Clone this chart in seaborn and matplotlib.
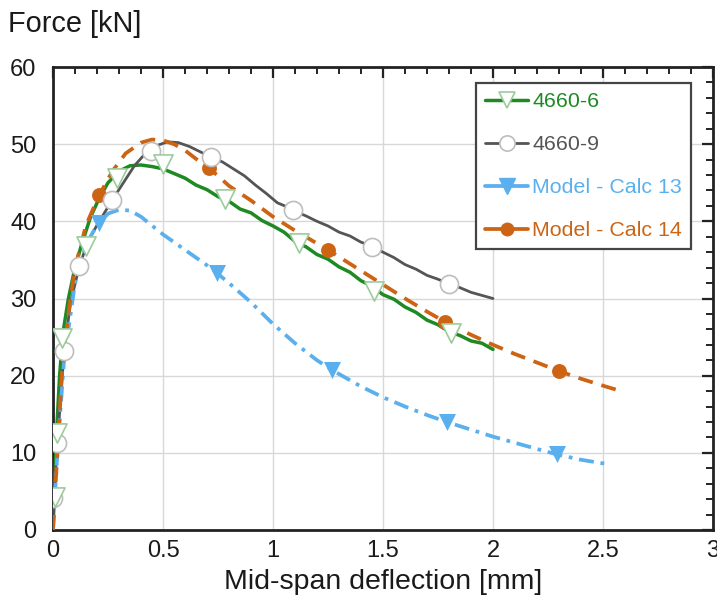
import numpy as np
import pandas as pd
import matplotlib
matplotlib.use("Agg")
import matplotlib.pyplot as plt
from matplotlib.lines import Line2D
import seaborn as sns

# ---- data ----
g6_x = [0, 0.005, 0.015, 0.03, 0.045, 0.07, 0.1, 0.13, 0.17, 0.21, 0.25, 0.3, 0.35, 0.4, 0.45,
        0.5, 0.55, 0.6, 0.65, 0.7, 0.75, 0.8, 0.85, 0.9, 0.95, 1.0, 1.05, 1.1, 1.15, 1.2, 1.25,
        1.3, 1.35, 1.4, 1.45, 1.5, 1.55, 1.6, 1.65, 1.7, 1.75, 1.8, 1.85, 1.9, 1.95, 2.0]
g6_y = [0, 4, 12, 20, 25.5, 30, 34, 37, 40.5, 43, 45, 46.5, 47.2, 47.3, 47.1,
        46.8, 46.2, 45.6, 44.7, 44.1, 43.2, 42.6, 41.6, 41.1, 40.1, 39.4, 38.6, 37.4, 36.7, 35.7, 35.1,
        34.1, 33.4, 32.3, 31.6, 30.5, 29.9, 28.9, 28.2, 27.2, 26.6, 25.7, 25.2, 24.5, 24.2, 23.4]
g6_mx = [0.01, 0.02, 0.04, 0.15, 0.29, 0.5, 0.78, 1.12, 1.46, 1.81]
g6_my = [4.3, 12.6, 24.9, 36.8, 45.6, 47.4, 42.9, 37.2, 31.0, 25.5]

g9_x = [0, 0.005, 0.02, 0.05, 0.08, 0.12, 0.16, 0.2, 0.27, 0.32, 0.37, 0.42, 0.47, 0.52, 0.57,
        0.62, 0.67, 0.72, 0.77, 0.82, 0.87, 0.92, 0.97, 1.02, 1.07, 1.1, 1.15, 1.2, 1.25, 1.3,
        1.35, 1.4, 1.45, 1.5, 1.55, 1.6, 1.65, 1.7, 1.75, 1.8, 1.85, 1.9, 1.95, 2.0]
g9_y = [0, 4, 11.3, 23, 29.5, 34.2, 37.5, 39.5, 42.8, 45, 47.2, 48.8, 49.8, 50.3, 50.2,
        49.7, 49.0, 48.3, 47.7, 46.8, 45.9, 44.7, 43.6, 42.4, 41.8, 41.3, 40.7, 40.0, 39.4, 38.6,
        38.1, 37.3, 36.8, 36.0, 35.3, 34.4, 33.8, 33.0, 32.5, 31.9, 31.4, 30.8, 30.4, 30.0]
g9_mx = [0.0, 0.02, 0.05, 0.12, 0.27, 0.445, 0.72, 1.09, 1.45, 1.80]
g9_my = [4.1, 11.3, 23.2, 34.2, 42.8, 49.1, 48.3, 41.5, 36.7, 31.9]

c13_x = [0, 0.02, 0.05, 0.1, 0.15, 0.2, 0.25, 0.3, 0.35, 0.4, 0.5, 0.6, 0.7, 0.745, 0.8, 0.9,
         1.0, 1.1, 1.2, 1.27, 1.4, 1.5, 1.6, 1.7, 1.79, 1.9, 2.0, 2.1, 2.2, 2.29, 2.4, 2.53]
c13_y = [0, 10, 22, 32, 37, 39.5, 41, 41.5, 41.4, 40.6, 38.3, 36.3, 34.3, 33.3, 32.0, 29.5,
         26.7, 24.2, 22.0, 20.7, 18.6, 17.2, 16.0, 14.9, 14.0, 13.0, 12.1, 11.3, 10.5, 9.8, 9.1, 8.5]
c13_mx = [0.21, 0.745, 1.27, 1.79, 2.29]
c13_my = [39.8, 33.3, 20.7, 14.0, 9.8]

c14_x = [0, 0.02, 0.04, 0.07, 0.1, 0.15, 0.21, 0.27, 0.33, 0.4, 0.45, 0.5, 0.55, 0.6, 0.65,
         0.71, 0.8, 0.9, 1.0, 1.1, 1.25, 1.4, 1.5, 1.6, 1.7, 1.78, 1.9, 2.0, 2.1, 2.2, 2.3,
         2.4, 2.5, 2.57]
c14_y = [0, 10, 20, 28, 34, 39.5, 43.4, 46.5, 48.8, 50.2, 50.6, 50.5, 50.0, 49.2, 48.1,
         46.9, 44.6, 42.7, 40.6, 38.8, 36.3, 33.6, 31.8, 30.0, 28.3, 27.0, 25.3, 24.0, 22.8, 21.7, 20.6,
         19.6, 18.7, 18.1]
c14_mx = [0.21, 0.71, 1.25, 1.78, 2.3]
c14_my = [43.4, 46.9, 36.3, 27.0, 20.6]

labels = ["4660-6", "4660-9", "Model - Calc 13", "Model - Calc 14"]
x_ticks = [0, 0.5, 1, 1.5, 2, 2.5, 3]
x_tick_labels = ["0", "0.5", "1", "1.5", "2", "2.5", "3"]
y_ticks = [0, 10, 20, 30, 40, 50, 60]

# ---- styling ----
sns.set_style("white")
plt.rcParams["font.family"] = ["Liberation Sans", "DejaVu Sans"]

c_green = "#1f8a24"
c_gray = "#555555"
c_blue = "#5ab0ee"
c_orange = "#cc6414"
mk_green_edge = "#9ccc9c"
mk_gray_edge = "#bdbdbd"

fig = plt.figure(figsize=(7.17, 5.98), dpi=100)
ax = fig.add_axes([53 / 717, 1 - 530 / 598, 660 / 717, 463 / 598])

# lines
sns.lineplot(x=g6_x, y=g6_y, ax=ax, color=c_green, linewidth=2.5, sort=False,
             estimator=None, zorder=3)
sns.lineplot(x=g9_x, y=g9_y, ax=ax, color=c_gray, linewidth=2.0, sort=False,
             estimator=None, zorder=3)
sns.lineplot(x=c13_x, y=c13_y, ax=ax, color=c_blue, linewidth=2.7, sort=False,
             estimator=None, zorder=3)
ax.lines[-1].set_dashes((4, 1.8, 1, 1.8))
sns.lineplot(x=c14_x, y=c14_y, ax=ax, color=c_orange, linewidth=2.7, sort=False,
             estimator=None, zorder=3)
ax.lines[-1].set_dashes((4, 2.4))

# markers
sns.scatterplot(x=c13_mx, y=c13_my, ax=ax, marker="v", s=150, color=c_blue,
                edgecolor=c_blue, linewidth=0, zorder=4)
sns.scatterplot(x=c14_mx, y=c14_my, ax=ax, marker="o", s=115, color=c_orange,
                edgecolor=c_orange, linewidth=0, zorder=4)
sns.scatterplot(x=g9_mx, y=g9_my, ax=ax, marker="o", s=170, color="white",
                edgecolor=mk_gray_edge, linewidth=1.2, zorder=5)
sns.scatterplot(x=g6_mx, y=g6_my, ax=ax, marker="v", s=190, color="white",
                edgecolor=mk_green_edge, linewidth=1.2, zorder=5)

# axes
ax.set_xlim(0, 3)
ax.set_ylim(0, 60)
ax.set_xticks(x_ticks)
ax.set_xticklabels(x_tick_labels)
ax.set_yticks(y_ticks)
ax.set_xticks(np.arange(0, 3.0001, 0.1), minor=True)
ax.set_yticks(np.arange(0, 60.001, 2), minor=True)
ax.grid(True, which="major", color="#d8d8d8", linewidth=1.0, zorder=0)
ax.set_axisbelow(True)
for s in ax.spines.values():
    s.set_linewidth(2.0)
    s.set_color("#222222")
    s.set_visible(True)
ax.tick_params(which="both", direction="in", top=True, right=True, colors="#222222",
               labelcolor="#1a1a1a", labelsize=17)
ax.tick_params(which="major", length=8, width=1.6)
ax.tick_params(which="minor", length=5, width=1.4)
ax.tick_params(axis="x", which="major", pad=7)
ax.tick_params(axis="y", which="major", pad=12)

ax.set_xlabel("Mid-span deflection [mm]", fontsize=20.5, color="#1a1a1a", labelpad=5)
ax.set_ylabel("")
fig.text(0.011, 1 - 32 / 598, "Force [kN]", fontsize=20.8, color="#1a1a1a",
         ha="left", va="baseline")

# legend
handles = [
    Line2D([], [], color=c_green, lw=2.5, marker="v", markersize=12,
           markerfacecolor="white", markeredgecolor=mk_green_edge, markeredgewidth=1.2),
    Line2D([], [], color=c_gray, lw=2.0, marker="o", markersize=11,
           markerfacecolor="white", markeredgecolor=mk_gray_edge, markeredgewidth=1.2),
    Line2D([], [], color=c_blue, lw=2.7, marker="v", markersize=11,
           markerfacecolor=c_blue, markeredgecolor=c_blue),
    Line2D([], [], color=c_orange, lw=2.7, marker="o", markersize=9,
           markerfacecolor=c_orange, markeredgecolor=c_orange),
]
leg = ax.legend(handles, labels, loc="upper right", bbox_to_anchor=(0.967, 0.965),
                borderaxespad=0, fontsize=15.4, frameon=True, fancybox=False, framealpha=1,
                edgecolor="#444444", handlelength=2.0, handletextpad=0.2,
                labelspacing=1.12, borderpad=0.42, labelcolor="linecolor")
leg.get_frame().set_linewidth(1.6)
leg.set_zorder(10)

fig.savefig("out.png", dpi=100)
